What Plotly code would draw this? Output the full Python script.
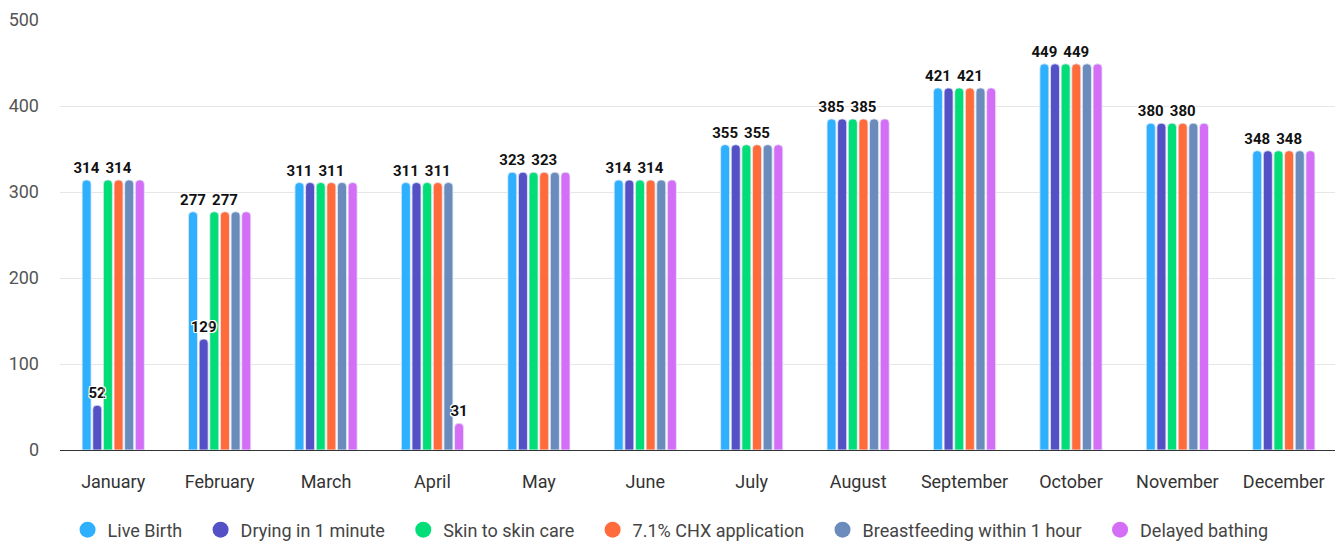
import plotly.graph_objects as go

months = ["January", "February", "March", "April", "May", "June", "July",
          "August", "September", "October", "November", "December"]
series_names = ["Live Birth", "Drying in 1 minute", "Skin to skin care",
                "7.1% CHX application", "Breastfeeding within 1 hour", "Delayed bathing"]
live_birth = [314, 277, 311, 311, 323, 314, 355, 385, 421, 449, 380, 348]
drying = [52, 129, 311, 311, 323, 314, 355, 385, 421, 449, 380, 348]
skin = [314, 277, 311, 311, 323, 314, 355, 385, 421, 449, 380, 348]
chx = [314, 277, 311, 311, 323, 314, 355, 385, 421, 449, 380, 348]
breastfeeding = [314, 277, 311, 311, 323, 314, 355, 385, 421, 449, 380, 348]
delayed = [314, 277, 311, 31, 323, 314, 355, 385, 421, 449, 380, 348]
colors = ["#2fb0ff", "#5451c6", "#02dd78", "#ff6b3b", "#6a8bbb", "#d46ef7"]

all_series = [live_birth, drying, skin, chx, breastfeeding, delayed]

# label visibility: hide labels that would collide with an already shown label
texts = [[""] * len(months) for _ in all_series]
for m in range(len(months)):
    shown = []
    for s, vals in enumerate(all_series):
        v = vals[m]
        collide = any(abs(s - ps) < 3 and abs(v - pv) < 20 for ps, pv in shown)
        if not collide:
            shown.append((s, v))
            texts[s][m] = str(v)

fig = go.Figure()
# visible bars
for i, (name, vals, col) in enumerate(zip(series_names, all_series, colors)):
    fig.add_trace(go.Bar(
        x=months, y=vals, name=name, marker_color=col, showlegend=False,
        offsetgroup=str(i), hoverinfo="x+y+name",
    ))
# label layer drawn on top of every bar
halo = ("1px 1px 0 #fff, -1px -1px 0 #fff, 1px -1px 0 #fff, -1px 1px 0 #fff, "
        "0 1px 0 #fff, 0 -1px 0 #fff, 1px 0 0 #fff, -1px 0 0 #fff")
for i, (name, vals, txt) in enumerate(zip(series_names, all_series, texts)):
    fig.add_trace(go.Bar(
        x=months, y=vals, name=name, marker_color="rgba(0,0,0,0)", showlegend=False,
        offsetgroup=str(i), hoverinfo="skip",
        text=txt, textposition="outside", cliponaxis=False, constraintext="none",
        textfont=dict(family="Roboto", size=15, color="#111", weight="bold", shadow=halo),
    ))
pad = "\u00a0" * 3
for i, (name, col) in enumerate(zip(series_names, colors)):
    fig.add_trace(go.Scatter(
        x=[None], y=[None], mode="markers",
        name=name + (pad if i < len(series_names) - 1 else ""),
        marker=dict(color=col, size=17, symbol="circle"),
    ))

# page body adds an 8px margin, so the figure is sized to fill the window
fig.update_layout(
    width=1335, height=535,
    margin=dict(l=52, r=6, t=12, b=93),
    plot_bgcolor="white", paper_bgcolor="white",
    barmode="group", bargap=0.4, bargroupgap=0.15, barcornerradius=4,
    font=dict(family="Roboto", size=18, color="#333"),
    xaxis=dict(showgrid=False, showline=False, ticks="", automargin=False,
               tickfont=dict(size=18, color="#333"), ticklabelstandoff=19),
    yaxis=dict(range=[0, 500], dtick=100, showgrid=True, gridcolor="#e6e6e6",
               zeroline=True, zerolinecolor="#333", zerolinewidth=1, automargin=False,
               tickfont=dict(size=18, color="#555"), ticklabelstandoff=20),
    legend=dict(orientation="h", xref="container", x=0.4963, xanchor="center",
                yref="container", y=0.0243, yanchor="middle",
                font=dict(size=18, color="#444")),
)
fig.write_html("out.html")
